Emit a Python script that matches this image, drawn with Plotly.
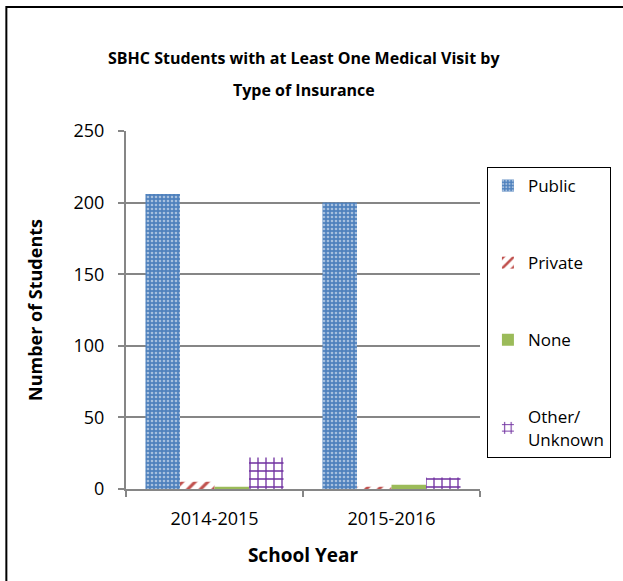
import plotly.graph_objects as go

categories = ["2014-2015", "2015-2016"]
public = [206, 200]
private = [5, 1.5]
none_ = [1.5, 3]
other = [22, 8]
y_ticks = [0, 50, 100, 150, 200, 250]
title_lines = ["SBHC Students with at Least One Medical Visit by", "Type of Insurance"]

W, H = 623, 581
L, R, T, B = 126, 484, 131, 489
pw, ph = R - L, B - T

def px_x(p):
    return (p - L) / pw

def px_y(p):
    return (B - p) / ph

FONT = "Open Sans"

fig = go.Figure()
fig.add_trace(go.Bar(
    name="Public", x=categories, y=public, legendgroup="a",
    marker=dict(color="#4F81BD", line=dict(width=0),
                pattern=dict(shape=".", fgcolor="white", bgcolor="#4F81BD",
                             size=4, solidity=0.35, fillmode="overlay")),
))
fig.add_trace(go.Bar(
    name="Private", x=categories, y=private, legendgroup="b",
    marker=dict(color="#C0504D", line=dict(width=0),
                pattern=dict(shape="/", fgcolor="#C0504D", bgcolor="white",
                             size=9, solidity=0.35, fillmode="replace")),
))
fig.add_trace(go.Bar(
    name="None", x=categories, y=none_, legendgroup="c",
    marker=dict(color="#9BBB59", line=dict(width=0)),
))
fig.add_trace(go.Bar(
    name="Other/<br>Unknown", x=categories, y=other, legendgroup="d",
    marker=dict(color="#7030A0", line=dict(width=0),
                pattern=dict(shape="+", fgcolor="#7030A0", bgcolor="white",
                             size=8, solidity=0.3, fillmode="replace")),
))

annotations = []
for line, py in zip(title_lines, [58, 90]):
    annotations.append(dict(
        text="<b>%s</b>" % line, xref="paper", yref="paper",
        x=px_x(306), y=px_y(py), xanchor="center", yanchor="middle",
        showarrow=False, font=dict(family=FONT, size=16, color="black")))

fig.update_layout(
    width=W, height=H,
    margin=dict(l=L, r=W - R, t=T, b=H - B, pad=0),
    paper_bgcolor="white", plot_bgcolor="white",
    barmode="group", bargap=0.22, bargroupgap=0,
    font=dict(family=FONT, size=17, color="black"),
    annotations=annotations,
    showlegend=True,
    legend=dict(x=px_x(491), y=px_y(167), xanchor="left", yanchor="top",
                bordercolor="black", borderwidth=1, bgcolor="white",
                tracegroupgap=52, font=dict(family=FONT, size=17),
                itemsizing="constant", traceorder="grouped"),
    xaxis=dict(
        title=dict(text="<b>School Year</b>", font=dict(family=FONT, size=19), standoff=20),
        showline=True, linecolor="#868686", linewidth=2,
        ticks="outside", ticklen=6, tickcolor="#868686", tickwidth=2,
        tickson="boundaries", tickfont=dict(size=18), ticklabelstandoff=12,
    ),
    yaxis=dict(
        title=dict(text="<b>Number of Students</b>", font=dict(family=FONT, size=18), standoff=26),
        range=[0, 250], tickvals=y_ticks,
        showline=True, linecolor="#868686", linewidth=2,
        ticks="outside", ticklen=6, tickcolor="#868686", tickwidth=2,
        showgrid=True, gridcolor="#868686", gridwidth=2,
        tickfont=dict(size=18), zeroline=False, ticklabelstandoff=10,
    ),
    shapes=[dict(type="rect", xref="paper", yref="paper",
                 x0=px_x(5), x1=px_x(660), y0=px_y(620), y1=px_y(7),
                 line=dict(color="black", width=2), layer="above")],
)

fig.write_html("out.html", config={"displayModeBar": False},
               post_script="document.body.style.margin='0';document.body.style.padding='0';")
